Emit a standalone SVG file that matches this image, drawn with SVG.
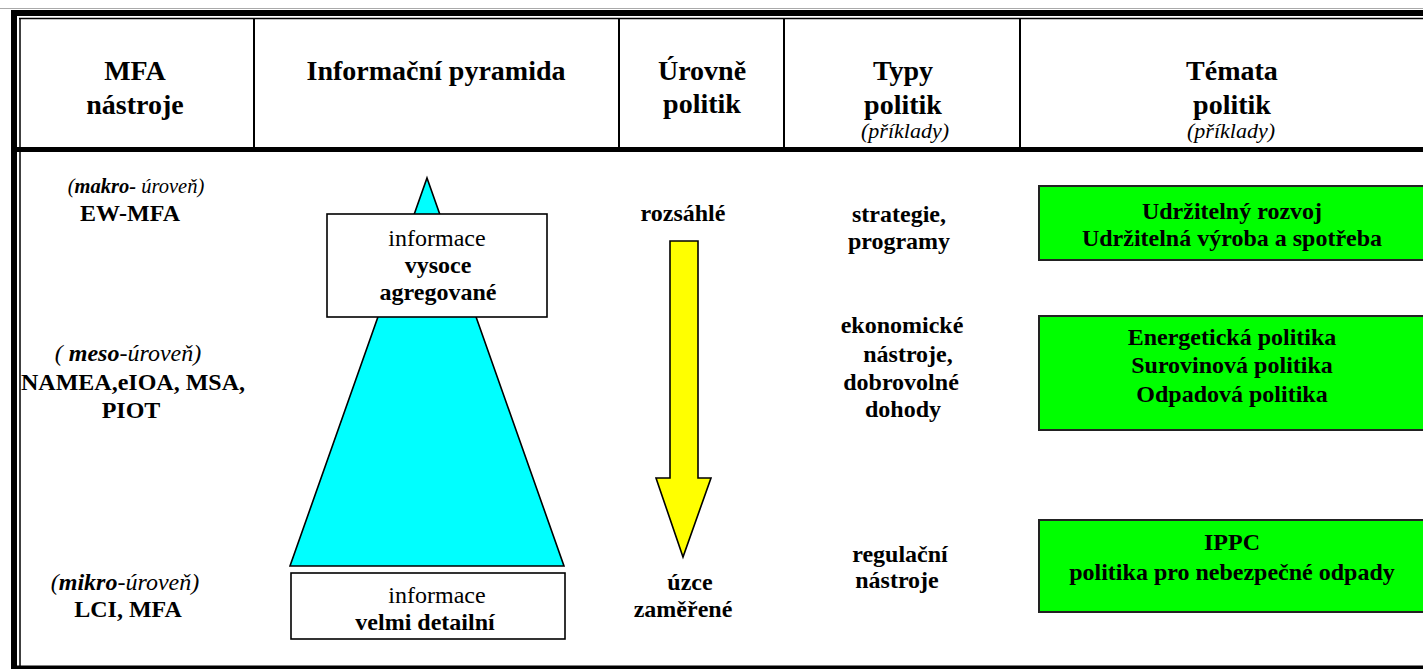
<svg xmlns="http://www.w3.org/2000/svg" width="1423" height="669" viewBox="0 0 1423 669">
<style>
text{font-family:"Liberation Serif","Times New Roman",serif;fill:#000;text-anchor:middle}
.h{font-size:28px;font-weight:bold}
.hi{font-size:22px;font-style:italic}
.b{font-size:24px;font-weight:bold}
.r{font-size:24px}
.lv{font-size:24px;font-style:italic}
.lvs{font-size:20.5px;font-style:italic}
.bi{font-weight:bold}
.sep{stroke:#000;stroke-width:2}
.gb{fill:#00FF00;stroke:#222;stroke-width:2}
.wb{fill:#fff;stroke:#000;stroke-width:1.6}
</style>
<rect x="0" y="0" width="1423" height="669" fill="#fff"/>
<g id="frame">
<line x1="0" y1="8.5" x2="1423" y2="8.5" stroke="#aaa" stroke-width="1"/>
<rect x="11" y="10" width="1412" height="6" fill="#000"/>
<rect x="11" y="10" width="6" height="659" fill="#000"/>
<line x1="19" y1="18.5" x2="1423" y2="18.5" stroke="#000" stroke-width="1.5"/>
<line x1="20" y1="18" x2="20" y2="666" stroke="#000" stroke-width="1.5"/>
<rect x="11" y="665.5" width="1412" height="4" fill="#000"/>
<rect x="17" y="147" width="1406" height="5" fill="#000"/>
<line class="sep" x1="254" y1="18" x2="254" y2="147"/>
<line class="sep" x1="619" y1="18" x2="619" y2="147"/>
<line class="sep" x1="784" y1="18" x2="784" y2="147"/>
<line class="sep" x1="1020" y1="18" x2="1020" y2="147"/>
</g>
<g id="header-mfa"><text class="h" x="135" y="80">MFA</text><text class="h" x="135" y="114">nástroje</text></g>
<g id="header-pyramid"><text class="h" x="436" y="80">Informační pyramida</text></g>
<g id="header-urovne"><text class="h" x="702" y="80">Úrovně</text><text class="h" x="702" y="113">politik</text></g>
<g id="header-typy"><text class="h" x="903" y="80">Typy</text><text class="h" x="903" y="114">politik</text><text class="hi" x="905" y="138">(příklady)</text></g>
<g id="header-temata"><text class="h" x="1232" y="80">Témata</text><text class="h" x="1232" y="114">politik</text><text class="hi" x="1231" y="138">(příklady)</text></g>

<g id="level-makro"><text class="lvs" x="136" y="193">(<tspan class="bi">makro-</tspan> úroveň)</text><text class="b" x="130" y="221">EW-MFA</text></g>
<g id="level-meso"><text class="lv" x="128" y="361">( <tspan class="bi">meso</tspan>-úroveň)</text><text class="b" x="133" y="390">NAMEA,eIOA, MSA,</text><text class="b" x="131" y="418">PIOT</text></g>
<g id="level-mikro"><text class="lv" x="125" y="590">(<tspan class="bi">mikro</tspan>-úroveň)</text><text class="b" x="128" y="617">LCI, MFA</text></g>

<g id="pyramid">
<polygon points="427,178 564,566 290,566" fill="#00FFFF" stroke="#000" stroke-width="1.6" stroke-linejoin="miter"/>
</g>
<g id="box-aggregated">
<rect class="wb" x="327" y="214" width="220" height="103"/>
<text class="r" x="437" y="246">informace</text>
<text class="b" x="438" y="273">vysoce</text>
<text class="b" x="438" y="300">agregované</text>
</g>
<g id="box-detailed">
<rect class="wb" x="291" y="573" width="274" height="66"/>
<text class="r" x="437" y="603">informace</text>
<text class="b" x="425" y="630">velmi detailní</text>
</g>

<g id="arrow-scale">
<polygon points="670,241 698,241 698,478 711,478 683,557 656,478 670,478" fill="#FFFF00" stroke="#000" stroke-width="1.6"/>
</g>
<g id="label-rozsahle"><text class="b" x="683" y="221">rozsáhlé</text></g>
<g id="label-uzce"><text class="b" x="690" y="590">úzce</text><text class="b" x="683" y="617">zaměřené</text></g>

<g id="type-strategie"><text class="b" x="899" y="222">strategie,</text><text class="b" x="899" y="249">programy</text></g>
<g id="type-ekonomicke"><text class="b" x="902" y="333">ekonomické</text><text class="b" x="908" y="362">nástroje,</text><text class="b" x="901" y="390">dobrovolné</text><text class="b" x="903" y="417">dohody</text></g>
<g id="type-regulacni"><text class="b" x="900" y="562">regulační</text><text class="b" x="897" y="588">nástroje</text></g>

<g id="theme-1">
<rect class="gb" x="1039" y="186" width="400" height="74"/>
<text class="b" x="1232" y="219">Udržitelný rozvoj</text>
<text class="b" x="1232" y="246">Udržitelná výroba a spotřeba</text>
</g>
<g id="theme-2">
<rect class="gb" x="1039" y="316" width="400" height="114"/>
<text class="b" x="1232" y="345">Energetická politika</text>
<text class="b" x="1232" y="373">Surovinová politika</text>
<text class="b" x="1232" y="402">Odpadová politika</text>
</g>
<g id="theme-3">
<rect class="gb" x="1039" y="520" width="400" height="92"/>
<text class="b" x="1232" y="550">IPPC</text>
<text class="b" x="1232" y="580">politika pro nebezpečné odpady</text>
</g>
</svg>
